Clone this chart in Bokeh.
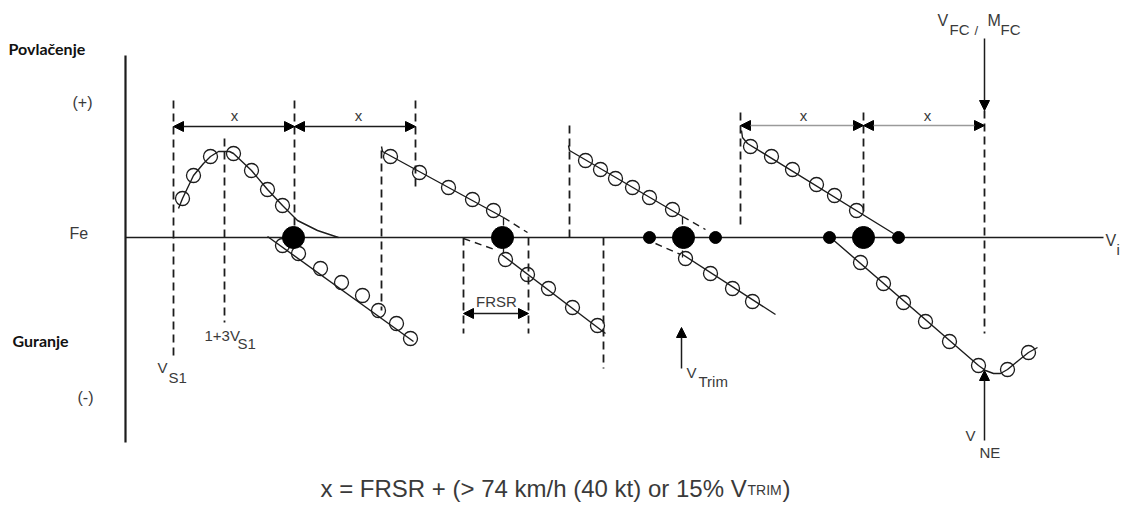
from bokeh.plotting import figure
from bokeh.models import Range1d, Arrow, NormalHead
from bokeh.core.properties import value
from bokeh.embed import file_html
from bokeh.resources import INLINE

# ---------------- data (V = indicated airspeed units, Fe = stick force units, pull > 0) -------------
axis_v = [125, 1103]
axis_fe = [182, -205]

# group 1 (near V_S1)
g1_up_line_v = [178, 182, 193, 203, 210, 218, 229, 233, 251, 267, 282, 297, 317, 338]
g1_up_line_f = [29, 39, 62, 74, 81, 86, 86, 84, 67, 48, 32, 17, 7, 0]
g1_up_pts_v = [182, 193, 210, 233, 251, 267, 282]
g1_up_pts_f = [39, 62, 81, 84, 67, 48, 32]
g1_lo_line_v = [267, 413]
g1_lo_line_f = [1, -104]
g1_lo_pts_v = [282, 298, 320, 341, 362, 378, 396, 410]
g1_lo_pts_f = [-8, -16, -31, -45, -58, -73, -86, -101]

# group 2
g2_up_line_v = [381, 382, 503]
g2_up_line_f = [91, 86, 20]
g2_up_pts_v = [390, 419, 448, 472, 493]
g2_up_pts_f = [81, 65, 50, 38, 27]
g2_lo_line_v = [501, 605]
g2_lo_line_f = [-17, -96]
g2_lo_pts_v = [505, 527, 548, 572, 597]
g2_lo_pts_f = [-22, -37, -51, -70, -88]

# group 3 (V_Trim)
g3_up_line_v = [568, 569, 682]
g3_up_line_f = [92, 87, 21]
g3_up_pts_v = [585, 600, 615, 632, 649, 672]
g3_up_pts_f = [77, 68, 59, 50, 40, 28]
g3_lo_line_v = [682, 775]
g3_lo_line_f = [-17, -77]
g3_lo_pts_v = [685, 710, 732, 752]
g3_lo_pts_f = [-21, -36, -51, -64]

# group 4 (towards V_NE)
g4_up_line_v = [741, 742, 747, 893]
g4_up_line_f = [107, 100, 94, 4]
g4_up_pts_v = [750, 771, 792, 816, 834, 856]
g4_up_pts_f = [91, 81, 68, 53, 42, 27]
g4_lo_line_v = [830, 978, 985, 993, 1000, 1007, 1018, 1028, 1037]
g4_lo_line_f = [0, -128, -133, -136, -136, -132, -123, -115, -110]
g4_lo_pts_v = [860, 883, 903, 925, 949, 978, 1007, 1028]
g4_lo_pts_f = [-25, -46, -65, -84, -104, -128, -132, -115]

# dashed continuation segments (v0, f0, v1, f1)
dash_v0 = [503, 463, 682, 655]
dash_f0 = [20, -1, 21, -6]
dash_v1 = [527, 497, 705, 680]
dash_f1 = [5, -13, 8, -17]
# short steps between branches
step_v = [503, 503, 682, 682]
step_f0 = [20, -10, 21, -13]
step_f1 = [12, -16, 13, -20]

# trim (neutral) points on Fe = 0
trim_big_v = [293, 502, 683, 863]
trim_small_v = [649, 715, 829, 898]

# dashed reference speeds (v, top, bottom)
ref_v = [173, 224, 294, 415, 381, 463, 528, 603, 569, 740, 863, 984]
ref_top = [137, 99, 137, 137, 87, 0, 0, 0, 112, 125, 125, 127]
ref_bot = [-120, -85, 5, 47, -73, -96, -96, -131, 0, 9, 24, -96]

# dimension arrows (v0, v1, f, gray?)
dim_v0 = [173, 294, 463, 740, 863]
dim_v1 = [294, 415, 528, 863, 984]
dim_f = [111, 111, -76, 112, 112]
dim_gray = [False, False, False, True, True]

# pointer arrows (v, f_from, f_to)
ptr_v = [681, 984, 984]
ptr_f0 = [-131, 199, -203]
ptr_f1 = [-90, 127, -133]

# text labels: (text, v, fe, size_px, align, style)
labels = [
    ("Povlačenje", 8, 189, 16, "left", "bold"),
    ("Guranje", 12, -103, 16, "left", "bold"),
    ("(+)", 72, 135, 16, "left", "normal"),
    ("Fe", 69, 4, 16, "left", "normal"),
    ("(-)", 77, -160, 16, "left", "normal"),
    ("V", 157, -130, 15, "left", "normal"),
    ("S1", 168, -140, 15, "left", "normal"),
    ("1+3V", 204, -98, 15, "left", "normal"),
    ("S1", 237, -106, 15, "left", "normal"),
    ("x", 234, 122, 15, "center", "normal"),
    ("x", 358, 122, 15, "center", "normal"),
    ("x", 803, 122, 15, "center", "normal"),
    ("x", 927, 122, 15, "center", "normal"),
    ("FRSR", 496, -64, 15, "center", "normal"),
    ("V", 686, -135, 15, "left", "normal"),
    ("Trim", 698, -144, 15, "left", "normal"),
    ("V", 937, 217, 16, "left", "normal"),
    ("FC", 949, 208, 15, "left", "normal"),
    ("/", 974, 207, 13, "left", "normal"),
    ("M", 987, 217, 16, "left", "normal"),
    ("FC", 1000, 208, 15, "left", "normal"),
    ("V", 1105, -3, 16, "left", "normal"),
    ("i", 1116, -12, 15, "left", "normal"),
    ("V", 965, -198, 15, "left", "normal"),
    ("NE", 979, -215, 15, "left", "normal"),
]
formula_main = "x = FRSR + (> 74 km/h (40 kt) or 15% V"
formula_sub = "TRIM"
formula_end = ")"

# ---------------- drawing ----------------
LINE = "#1c1c1c"
TEXT = "#3a3a3a"

p = figure(width=1124, height=504, x_range=Range1d(0, 1124), y_range=Range1d(-267, 237),
           output_backend="svg", toolbar_location=None, x_axis_location=None,
           y_axis_location=None, min_border=0, title=None)
p.grid.visible = False
p.outline_line_color = None
p.background_fill_color = "white"
p.border_fill_color = "white"

# axes
p.line(x=axis_v, y=[0, 0], line_color=LINE, line_width=1.6)
p.line(x=[axis_v[0], axis_v[0]], y=axis_fe, line_color=LINE, line_width=2.2)

# dashed references
p.segment(x0=ref_v, y0=ref_top, x1=ref_v, y1=ref_bot, line_color=LINE, line_width=1.8, line_dash="8 5")

# dashed continuations and steps
p.segment(x0=dash_v0, y0=dash_f0, x1=dash_v1, y1=dash_f1, line_color=LINE, line_width=1.4, line_dash="7 5")
p.segment(x0=step_v, y0=step_f0, x1=step_v, y1=step_f1, line_color=LINE, line_width=1.3)

# curves
for lv, lf in [(g1_up_line_v, g1_up_line_f), (g1_lo_line_v, g1_lo_line_f),
               (g2_up_line_v, g2_up_line_f), (g2_lo_line_v, g2_lo_line_f),
               (g3_up_line_v, g3_up_line_f), (g3_lo_line_v, g3_lo_line_f),
               (g4_up_line_v, g4_up_line_f), (g4_lo_line_v, g4_lo_line_f)]:
    p.line(x=lv, y=lf, line_color=LINE, line_width=1.4)

pts_v = g1_up_pts_v + g1_lo_pts_v + g2_up_pts_v + g2_lo_pts_v + g3_up_pts_v + g3_lo_pts_v + g4_up_pts_v + g4_lo_pts_v
pts_f = g1_up_pts_f + g1_lo_pts_f + g2_up_pts_f + g2_lo_pts_f + g3_up_pts_f + g3_lo_pts_f + g4_up_pts_f + g4_lo_pts_f
p.scatter(x=pts_v, y=pts_f, marker="circle", size=14, fill_color=None, line_color=LINE, line_width=1.3)

p.scatter(x=trim_big_v, y=[0] * len(trim_big_v), marker="circle", size=22, fill_color="black", line_color="black")
p.scatter(x=trim_small_v, y=[0] * len(trim_small_v), marker="circle", size=12, fill_color="black", line_color="black")

def head():
    return NormalHead(size=10, fill_color="black", line_color="black", line_width=1)

for v0, v1, f, gray in zip(dim_v0, dim_v1, dim_f, dim_gray):
    p.add_layout(Arrow(start=head(), end=head(), x_start=v0, y_start=f, x_end=v1, y_end=f,
                       line_color="#9a9a9a" if gray else LINE, line_width=1.4))

for v, f0, f1 in zip(ptr_v, ptr_f0, ptr_f1):
    p.add_layout(Arrow(end=head(), x_start=v, y_start=f0, x_end=v, y_end=f1,
                       line_color=LINE, line_width=1.5))

for txt, v, f, size, align, style in labels:
    bold = style == "bold"
    p.text(x=[v], y=[f], text=[txt],
           text_font=value("Lato" if bold else "Liberation Sans"),
           text_font_size=value(f"{size}px"), text_font_style=style,
           text_align=align, text_baseline="middle",
           text_color="#111111" if bold else TEXT)

p.text(x=[320], y=[-251], text=[formula_main], text_font=value("Liberation Sans"),
       text_font_size=value("24px"), text_align="left", text_baseline="alphabetic", text_color=TEXT)
p.text(x=[747], y=[-252], text=[formula_sub], text_font=value("Liberation Sans"),
       text_font_size=value("14px"), text_align="left", text_baseline="alphabetic", text_color=TEXT)
p.text(x=[782], y=[-251], text=[formula_end], text_font=value("Liberation Sans"),
       text_font_size=value("24px"), text_align="left", text_baseline="alphabetic", text_color=TEXT)

open("out.html", "w").write(file_html(p, INLINE))
